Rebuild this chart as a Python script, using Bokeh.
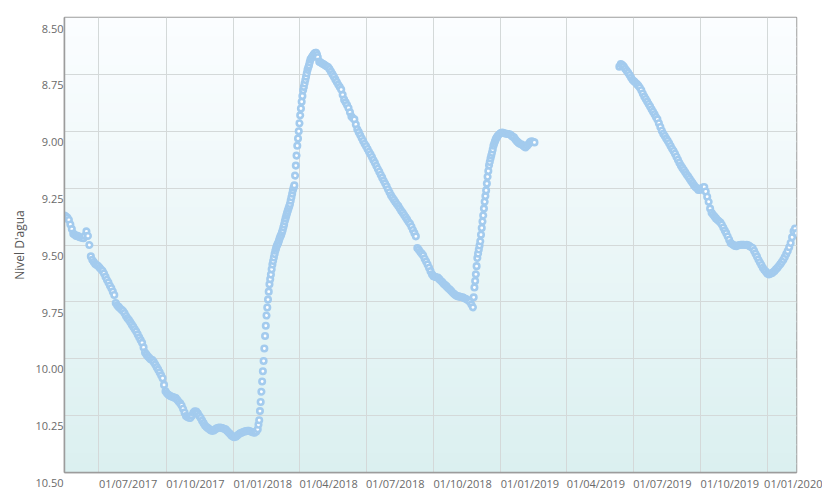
import pandas as pd
from bokeh.plotting import figure
from bokeh.models import Range1d, FixedTicker, BoxAnnotation, ColumnDataSource
from bokeh.embed import file_html
from bokeh.resources import INLINE

# ---------------- data ----------------
# each run: first date, spacing between readings, water-level readings (m)
run1_start, run1_step = "2017-05-15", "2D"
run1_level = [
    9.37, 9.375, 9.38, 9.39, 9.41, 9.43, 9.45, 9.455, 9.46, 9.46,
    9.465, 9.467, 9.468, 9.47, 9.46, 9.44, 9.46, 9.50, 9.55, 9.565,
    9.575, 9.583, 9.588, 9.592, 9.60, 9.607, 9.614, 9.625, 9.64, 9.653,
    9.665, 9.678, 9.69, 9.705, 9.72, 9.755, 9.765, 9.772, 9.778, 9.785,
    9.79, 9.80, 9.812, 9.822, 9.83, 9.84, 9.85, 9.86, 9.87, 9.88,
    9.893, 9.906, 9.918, 9.93, 9.95, 9.972, 9.982, 9.99, 9.997, 10.003,
    10.006, 10.015, 10.025, 10.037, 10.048, 10.06, 10.073, 10.086, 10.115, 10.143,
    10.152, 10.158, 10.163, 10.166, 10.168, 10.171, 10.173, 10.18, 10.188, 10.196,
    10.205, 10.22, 10.237, 10.252, 10.256, 10.259, 10.26, 10.25, 10.238, 10.231,
    10.232, 10.24, 10.25, 10.26, 10.272, 10.283, 10.293, 10.30, 10.305, 10.31,
    10.315, 10.317, 10.315, 10.31, 10.306, 10.303, 10.302, 10.303, 10.305, 10.308,
    10.31, 10.316, 10.323, 10.33, 10.337, 10.342, 10.345, 10.343, 10.338, 10.333,
    10.328, 10.325, 10.322, 10.32, 10.318, 10.317, 10.317, 10.319, 10.322, 10.324,
    10.325, 10.32,
]
run2_start, run2_step = "2018-02-03", "1D"
run2_level = [
    10.31, 10.29, 10.27, 10.23, 10.19, 10.145, 10.10, 10.055, 10.01, 9.955,
    9.90, 9.855, 9.81, 9.775, 9.74, 9.705, 9.673, 9.65, 9.63, 9.607,
    9.586, 9.57, 9.555, 9.54, 9.525, 9.515, 9.505, 9.497, 9.49, 9.48,
    9.47, 9.462, 9.455, 9.445, 9.435, 9.422, 9.41, 9.396, 9.383, 9.371,
    9.36, 9.35, 9.34, 9.33, 9.32, 9.305, 9.29, 9.275, 9.26, 9.248,
    9.238, 9.195, 9.151, 9.107, 9.064, 9.032, 9.00, 8.965, 8.93, 8.90,
    8.87, 8.845, 8.82, 8.805, 8.79, 8.775, 8.76, 8.745, 8.73, 8.72,
    8.71, 8.697, 8.685, 8.68, 8.675, 8.67, 8.665, 8.661, 8.657, 8.655,
    8.655, 8.665, 8.675,
]
run3_start, run3_step = "2018-04-28", "2D"
run3_level = [
    8.694, 8.698, 8.702, 8.706, 8.71, 8.714,
    8.718, 8.727, 8.738, 8.749, 8.76, 8.772, 8.783, 8.795, 8.806, 8.817,
    8.84, 8.861, 8.873, 8.885, 8.898, 8.917, 8.935, 8.942, 8.948, 8.97,
    8.991, 9.004, 9.017, 9.03, 9.043, 9.055, 9.066, 9.078, 9.09, 9.101,
    9.113, 9.126, 9.139, 9.152, 9.165, 9.178, 9.191, 9.204, 9.217, 9.229,
    9.242, 9.255, 9.268, 9.281, 9.291, 9.301, 9.311, 9.32, 9.329, 9.339,
    9.349, 9.358, 9.368, 9.378, 9.388, 9.398, 9.407, 9.42, 9.434, 9.448,
    9.462, 9.513, 9.521, 9.53, 9.538, 9.546, 9.56, 9.573, 9.586, 9.60,
    9.615, 9.629, 9.637, 9.64, 9.642, 9.643, 9.65, 9.656, 9.663, 9.67,
    9.676, 9.682, 9.689, 9.695, 9.701, 9.708, 9.714, 9.72, 9.724, 9.726,
    9.727, 9.729, 9.73, 9.733, 9.736, 9.74, 9.744, 9.75, 9.762,
]
run4_start, run4_step = "2018-11-24", "1D"
run4_level = [
    9.774, 9.73, 9.687, 9.658, 9.629, 9.593, 9.557, 9.538, 9.52, 9.502,
    9.484, 9.455, 9.425, 9.397, 9.37, 9.34, 9.31, 9.285, 9.26, 9.23,
    9.20, 9.175, 9.15, 9.135, 9.12, 9.107, 9.095, 9.08, 9.064, 9.055,
    9.045, 9.037, 9.03, 9.025, 9.02,
]
run5_start, run5_step = "2018-12-30", "2D"
run5_level = [
    9.013, 9.008, 9.006,
    9.008, 9.01, 9.011, 9.012, 9.013, 9.018, 9.023, 9.027, 9.036, 9.044,
    9.05, 9.055, 9.057, 9.062, 9.067, 9.071, 9.064, 9.056, 9.048, 9.044,
    9.046, 9.049,
]
run6_start, run6_step = "2019-06-12", "2D"
run6_level = [
    8.716, 8.705, 8.709, 8.716, 8.725, 8.734, 8.743, 8.753, 8.764, 8.774,
    8.78, 8.786, 8.793, 8.80, 8.808, 8.82, 8.834, 8.847, 8.858, 8.869,
    8.88, 8.891, 8.903, 8.914, 8.925, 8.937, 8.948, 8.965, 8.981, 8.998,
    9.011, 9.021, 9.032, 9.042, 9.053, 9.065, 9.076, 9.087, 9.099, 9.112,
    9.125, 9.138, 9.151, 9.161, 9.17, 9.18, 9.19, 9.199, 9.209, 9.219,
    9.228, 9.238, 9.245, 9.251, 9.258, 9.258, 9.252, 9.247, 9.245, 9.265,
    9.288, 9.31, 9.34, 9.358, 9.366, 9.375, 9.383, 9.389, 9.395, 9.401,
    9.41, 9.423, 9.436, 9.448, 9.462, 9.477, 9.491, 9.496, 9.50, 9.504,
    9.505, 9.502, 9.50, 9.499, 9.499, 9.499, 9.50, 9.499, 9.501, 9.505,
    9.509, 9.513, 9.525, 9.538, 9.551, 9.564, 9.576, 9.588, 9.60, 9.609,
    9.617, 9.625, 9.629, 9.627, 9.624, 9.62, 9.614, 9.607, 9.60, 9.592,
    9.584, 9.575, 9.565, 9.553, 9.54, 9.527, 9.51, 9.491, 9.466, 9.44,
    9.428, 9.448,
]

x_tick_labels = ["01/07/2017", "01/10/2017", "01/01/2018", "01/04/2018",
                 "01/07/2018", "01/10/2018", "01/01/2019", "01/04/2019",
                 "01/07/2019", "01/10/2019", "01/01/2020"]
y_ticks = [8.50, 8.75, 9.00, 9.25, 9.50, 9.75, 10.00, 10.25, 10.50]
y_title = "Nivel D'agua"

# ---------------- build ----------------
runs = [(run1_start, run1_step, run1_level), (run2_start, run2_step, run2_level),
        (run3_start, run3_step, run3_level), (run4_start, run4_step, run4_level),
        (run5_start, run5_step, run5_level), (run6_start, run6_step, run6_level)]
dates, levels = [], []
for start, stp, vals in runs:
    dates += list(pd.date_range(start, periods=len(vals), freq=stp))
    levels += list(vals)
src = ColumnDataSource(dict(date=dates, level=levels))

def ms(ts):
    return pd.Timestamp(ts).timestamp() * 1000.0

FONT = "Open Sans"
LABEL_COLOR = "#6a6a6a"
FRAME_COLOR = "#9c9c9c"

p = figure(width=822, height=501, x_axis_type="datetime",
           output_backend="svg", toolbar_location=None,
           x_range=Range1d(ms(min(dates)), ms(max(dates))),
           y_range=Range1d(max(y_ticks), min(y_ticks)),
           min_border_left=64, min_border_top=17, min_border_right=26,
           min_border_bottom=24)

p.background_fill_color = "#ffffff"
p.border_fill_color = "#ffffff"
p.outline_line_color = FRAME_COLOR
p.outline_line_width = 1.5

# vertical gradient background (white -> pale teal)
top_rgb = (251, 253, 255)
bot_rgb = (219, 240, 240)
N = 48
lo, hi = min(y_ticks), max(y_ticks)
for k in range(N):
    t = (k + 0.5) / N
    c = tuple(int(round(top_rgb[j] + (bot_rgb[j] - top_rgb[j]) * t)) for j in range(3))
    y0 = lo + (hi - lo) * k / N
    y1 = lo + (hi - lo) * (k + 1.15) / N
    p.add_layout(BoxAnnotation(top=y0, bottom=min(y1, hi), fill_color="#%02x%02x%02x" % c,
                               fill_alpha=1.0, line_color=None, level="image"))

tick_ms = [ms(pd.to_datetime(s, format="%d/%m/%Y")) for s in x_tick_labels]
p.xaxis.ticker = FixedTicker(ticks=tick_ms)
p.xaxis.major_label_overrides = {t: s for t, s in zip(tick_ms, x_tick_labels)}
# a (practically zero) negative angle makes Bokeh start each date label at its grid line
p.xaxis.major_label_orientation = -1e-9
p.xaxis.major_label_standoff = 11

p.yaxis.ticker = FixedTicker(ticks=y_ticks)
# a leading empty line drops each level label just below its grid line
p.yaxis.major_label_overrides = {v: "\n%.2f" % v for v in y_ticks}
p.yaxis.major_label_text_line_height = 1.35
p.yaxis.major_label_standoff = 1

p.xgrid.ticker = FixedTicker(ticks=tick_ms)
p.ygrid.ticker = FixedTicker(ticks=y_ticks)
for g in (p.xgrid, p.ygrid):
    g.grid_line_color = "#d4d9d9"
    g.grid_line_width = 1
    g.level = "underlay"

for ax in (p.xaxis, p.yaxis):
    ax.axis_line_color = FRAME_COLOR
    ax.axis_line_width = 1.5
    ax.major_tick_line_color = None
    ax.minor_tick_line_color = None
    ax.major_tick_out = 0
    ax.major_tick_in = 0
    ax.minor_tick_out = 0
    ax.major_label_text_font = FONT
    ax.major_label_text_font_size = "11px"
    ax.major_label_text_color = LABEL_COLOR

p.yaxis.axis_label = y_title
p.yaxis.axis_label_text_font = FONT
p.yaxis.axis_label_text_font_size = "12px"
p.yaxis.axis_label_text_font_style = "normal"
p.yaxis.axis_label_text_color = "#555555"
p.yaxis.axis_label_standoff = 4

p.scatter("date", "level", source=src, marker="circle", size=5.5,
          line_color="#a3cbee", line_width=2.6, fill_color="#ffffff")

open("out.html", "w").write(file_html(p, INLINE))
